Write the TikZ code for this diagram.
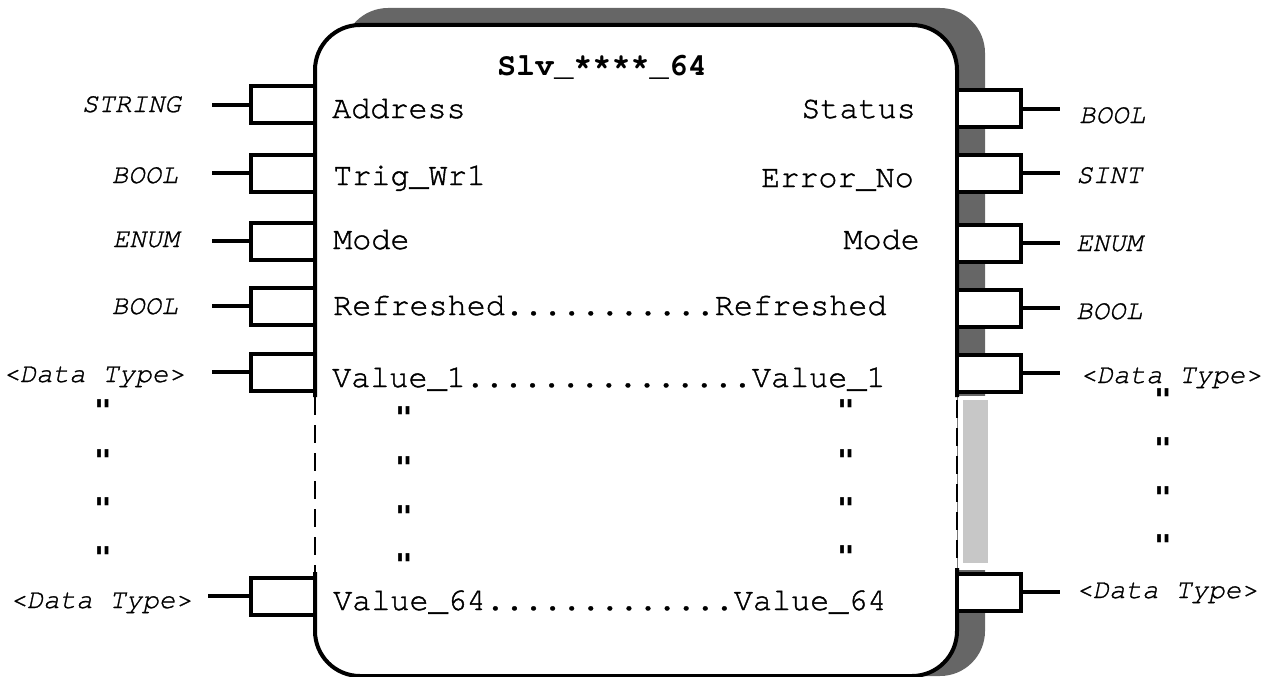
\documentclass[tikz,border=0pt]{standalone}
\usepackage{fontspec}
\setmonofont{texgyrecursor}[Extension=.otf, UprightFont=*-regular, BoldFont=*-bold, ItalicFont=*-italic, BoldItalicFont=*-bolditalic, UprightFeatures={FakeBold=1.2}, ItalicFeatures={FakeBold=1}]
\newfontfamily\dittofont{DejaVu Sans Mono Bold}
\begin{document}
\begin{tikzpicture}[x=1pt,y=-1pt,
  pinbox/.style={draw, line width=4pt, fill=white, minimum width=64pt, minimum height=37pt, inner sep=0pt},
  lead/.style={line width=4pt},
  boxline/.style={line width=4pt},
  dashedge/.style={line width=1.8pt, dash pattern=on 18pt off 10pt},
  sig/.style={font=\ttfamily\fontsize{31.8}{36}\selectfont, inner sep=0pt},
  typ/.style={font=\ttfamily\itshape\fontsize{27.5}{32}\selectfont, inner sep=0pt},
  ditto/.style={font=\dittofont\fontsize{30}{34}\selectfont, inner sep=0pt, anchor=north},
  shadowdark/.style={fill=black!60},
  shadowlight/.style={fill=black!22}]
\useasboundingbox (0,0) rectangle (1266,677);
% shadow
\fill[shadowdark, rounded corners=45pt] (343,8) rectangle (985,676);
\fill[white] (958,396) rectangle (995,570);
\fill[shadowlight] (963,400) rectangle (988,563);
% block body
\fill[white, rounded corners=45pt] (315,25) rectangle (957,676);
\draw[boxline, rounded corners=45pt] (315,397) -- (315,25) -- (957,25) -- (957,397);
\draw[boxline, rounded corners=45pt] (957,568) -- (957,676) -- (315,676) -- (315,572);
\draw[dashedge] (315,397) -- (315,572);
\draw[dashedge] (957,400) -- (957,568);
% title
\node[sig, font=\ttfamily\bfseries\fontsize{31.8}{36}\selectfont, anchor=base] (title) at (602,76) {Slv\_****\_64};
% left pins
\node[pinbox] (pL1) at (283,104.5) {};
\node[pinbox] (pL2) at (283,173) {};
\node[pinbox] (pL3) at (283,241) {};
\node[pinbox] (pL4) at (283,306) {};
\node[pinbox] (pL5) at (283,372) {};
\node[pinbox] (pL6) at (283,596) {};
\coordinate (eL1) at (212,104.5);
\coordinate (eL2) at (212,173);
\coordinate (eL3) at (212,241);
\coordinate (eL4) at (212,306);
\coordinate (eL5) at (212,372);
\coordinate (eL6) at (208,596);
\draw[lead] (pL1.west) -- (eL1);
\draw[lead] (pL2.west) -- (eL2);
\draw[lead] (pL3.west) -- (eL3);
\draw[lead] (pL4.west) -- (eL4);
\draw[lead] (pL5.west) -- (eL5);
\draw[lead] (pL6.west) -- (eL6);
% right pins
\node[pinbox] (pR1) at (988.5,108.5) {};
\node[pinbox] (pR2) at (988.5,173) {};
\node[pinbox] (pR3) at (988.5,243) {};
\node[pinbox] (pR4) at (988.5,308) {};
\node[pinbox] (pR5) at (988.5,373) {};
\node[pinbox] (pR6) at (988.5,592) {};
\coordinate (eR1) at (1060,108.5);
\coordinate (eR2) at (1060,173);
\coordinate (eR3) at (1060,243);
\coordinate (eR4) at (1060,308);
\coordinate (eR5) at (1060,373);
\coordinate (eR6) at (1060,592);
\draw[lead] (pR1.east) -- (eR1);
\draw[lead] (pR2.east) -- (eR2);
\draw[lead] (pR3.east) -- (eR3);
\draw[lead] (pR4.east) -- (eR4);
\draw[lead] (pR5.east) -- (eR5);
\draw[lead] (pR6.east) -- (eR6);
% left types
\node[typ, anchor=base east] (tL1) at (181,112) {STRING};
\node[typ, anchor=base east] (tL2) at (178,183) {BOOL};
\node[typ, anchor=base east] (tL3) at (179,247) {ENUM};
\node[typ, anchor=base east] (tL4) at (178,314) {BOOL};
\node[typ, anchor=base east] (tL5) at (185,382) {<Data Type>};
\node[typ, anchor=base east] (tL6) at (192,608) {<Data Type>};
% right types
\node[typ, anchor=base west] (tR1) at (1079,123) {BOOL};
\node[typ, anchor=base west] (tR2) at (1076,183) {SINT};
\node[typ, anchor=base west] (tR3) at (1076,251) {ENUM};
\node[typ, anchor=base west] (tR4) at (1076,319) {BOOL};
\node[typ, anchor=base west] (tR5) at (1080,383) {<Data Type>};
\node[typ, anchor=base west] (tR6) at (1076,598) {<Data Type>};
% inner signal names
\node[sig, anchor=base west] (sL1) at (332,118) {Address};
\node[sig, anchor=base west] (sL2) at (333,185) {Trig\_Wr1};
\node[sig, anchor=base west] (sL3) at (333,249) {Mode};
\node[sig, anchor=base west] (sL4) at (333,315) {Refreshed...........Refreshed};
\node[sig, anchor=base west] (sL5) at (332,387) {Value\_1...............Value\_1};
\node[sig, anchor=base west] (sL6) at (333,610) {Value\_64.............Value\_64};
\node[sig, anchor=base east] (sR1) at (916,118) {Status};
\node[sig, anchor=base east] (sR2) at (914,187) {Error\_No};
\node[sig, anchor=base east] (sR3) at (920,249) {Mode};
% ditto marks
\node[ditto] (dA1) at (103,399) {"};
\node[ditto] (dA2) at (103,449) {"};
\node[ditto] (dA3) at (103,497) {"};
\node[ditto] (dA4) at (103,546) {"};
\node[ditto] (dB1) at (404,406) {"};
\node[ditto] (dB2) at (404,456) {"};
\node[ditto] (dB3) at (404,505) {"};
\node[ditto] (dB4) at (404,553) {"};
\node[ditto] (dC1) at (846,399) {"};
\node[ditto] (dC2) at (846,449) {"};
\node[ditto] (dC3) at (846,497) {"};
\node[ditto] (dC4) at (846,545) {"};
\node[ditto] (dD1) at (1163,388) {"};
\node[ditto] (dD2) at (1163,437) {"};
\node[ditto] (dD3) at (1163,486) {"};
\node[ditto] (dD4) at (1163,534) {"};
\end{tikzpicture}
\end{document}
